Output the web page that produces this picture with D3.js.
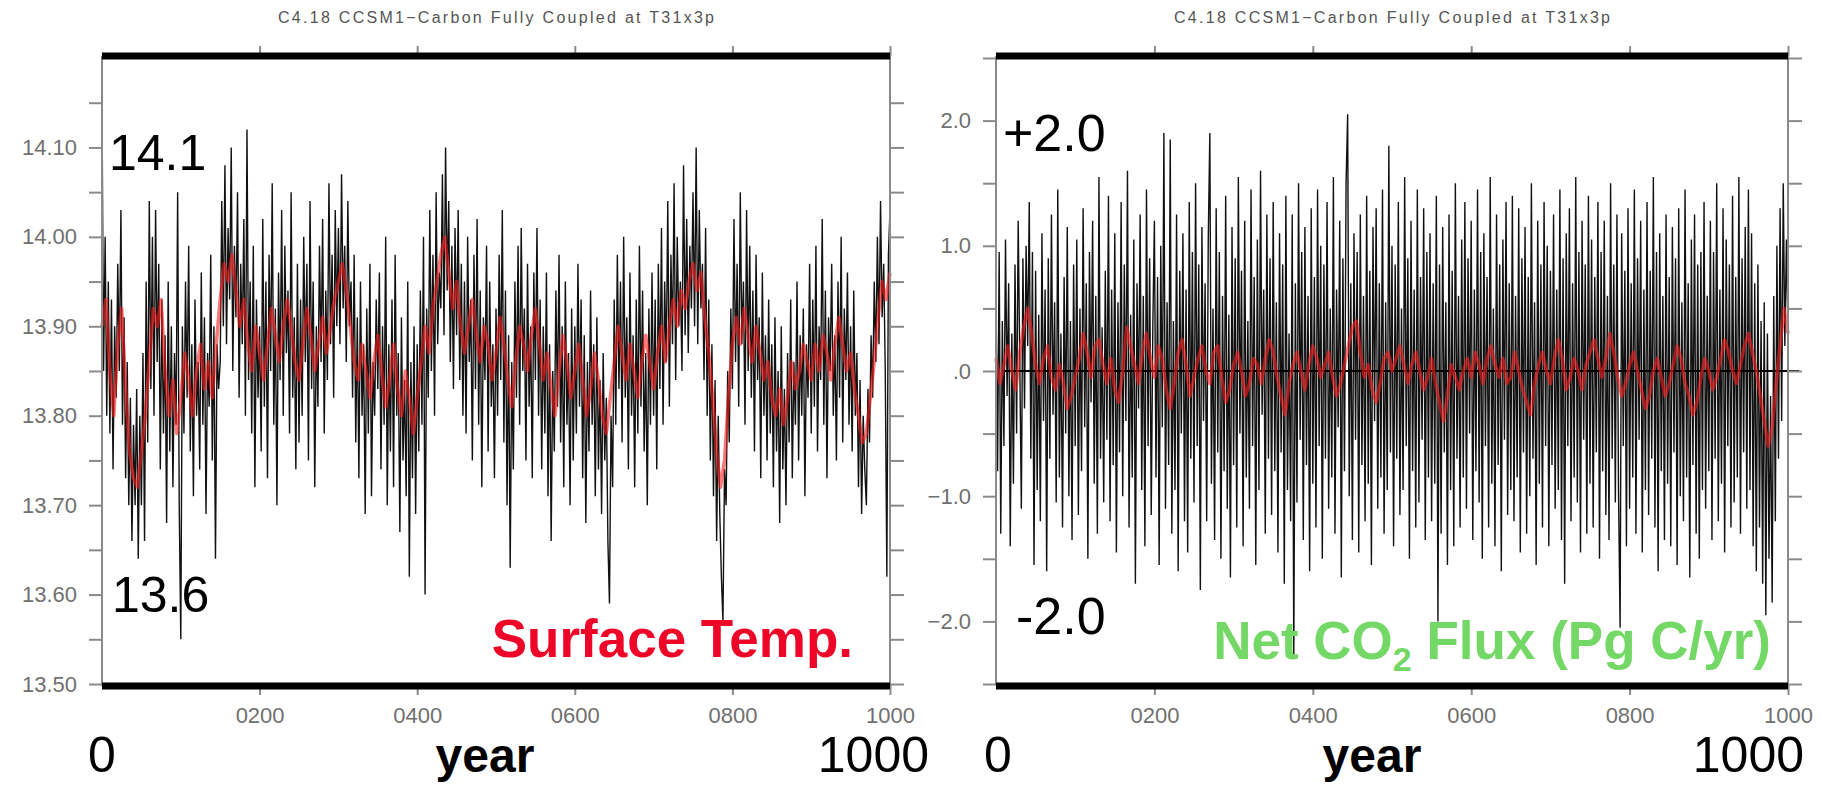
<!DOCTYPE html>
<html>
<head>
<meta charset="utf-8">
<script src="https://cdn.jsdelivr.net/npm/d3@7"></script>
<style>
  body { margin: 0; background: #ffffff; }
  svg { display: block; font-family: "Liberation Sans", Arial, sans-serif; }
</style>
</head>
<body>
<script>
// #region DATA
var plotTitle = "C4.18 CCSM1\u2212Carbon Fully Coupled at T31x3p";

// raw series sampled every 2 years (0..1000), smoothed every 5 years (0..1000)
var rawStep = 2;
var smoothStep = 5;

var xTickYears = [200, 400, 600, 800, 1000];
var xTickLabels = ["0200", "0400", "0600", "0800", "1000"];

var tempTicks = [13.5, 13.55, 13.6, 13.65, 13.7, 13.75, 13.8, 13.85, 13.9, 13.95, 14.0, 14.05, 14.1, 14.15];
var tempLabels = {"13.5": "13.50", "13.6": "13.60", "13.7": "13.70", "13.8": "13.80", "13.9": "13.90", "14": "14.00", "14.1": "14.10"};

var fluxTicks = [-2.5, -2, -1.5, -1, -0.5, 0, 0.5, 1, 1.5, 2, 2.5];
var fluxLabels = {"-2": "\u22122.0", "-1": "\u22121.0", "0": ".0", "1": "1.0", "2": "2.0"};

var zeroLineYears = [10, 1014];

var tempRaw = [
14.15,13.85,14.00,13.80,13.95,13.78,13.93,13.74,13.90,13.82,13.97,13.85,14.03,13.79,13.91,13.73,13.86,13.70,13.82,13.66,13.79,13.70,13.83,13.64,13.80,
13.70,13.87,13.66,13.95,13.77,14.04,13.83,14.00,13.80,14.03,13.86,13.97,13.74,13.93,13.78,13.89,13.68,13.95,13.76,13.90,13.72,13.87,13.79,14.05,13.70,
13.55,13.90,13.78,13.95,13.82,13.99,13.76,13.88,13.71,13.93,13.80,13.86,13.74,13.96,13.79,13.91,13.69,13.87,13.81,13.98,13.75,13.90,13.64,13.88,13.83,
13.86,14.04,13.90,14.08,13.88,14.01,13.93,14.10,13.85,13.99,13.91,14.05,13.82,13.97,13.88,14.02,13.80,14.12,13.84,13.95,13.78,13.99,13.72,13.93,13.82,
13.90,13.76,14.02,13.81,13.95,13.73,13.98,13.85,14.06,13.79,13.92,13.70,13.96,13.84,14.03,13.80,13.99,13.87,13.94,13.78,14.05,13.82,13.91,13.74,13.97,
13.77,13.93,13.80,14.00,13.86,13.97,13.75,14.04,13.83,13.95,13.72,13.90,13.81,13.99,13.86,14.02,13.78,13.94,13.84,14.06,13.88,13.98,13.82,14.03,13.90,
14.01,13.88,14.07,13.92,13.99,13.86,14.04,13.90,13.95,13.82,13.98,13.77,13.91,13.73,13.95,13.80,13.88,13.69,13.92,13.78,13.97,13.71,13.86,13.80,13.93,
13.83,13.96,13.74,13.90,13.79,14.00,13.70,13.88,13.76,13.93,13.72,13.98,13.80,13.87,13.67,13.91,13.75,13.84,13.71,13.95,13.62,13.86,13.73,13.90,13.69,
13.88,13.76,13.94,13.79,14.00,13.60,13.92,13.82,14.03,13.85,13.98,13.80,14.05,13.88,13.96,13.92,14.07,13.89,14.10,13.94,14.04,13.86,13.99,13.83,14.01,
13.89,14.03,13.84,13.97,13.80,13.95,13.78,14.00,13.86,13.93,13.75,13.98,13.83,14.02,13.79,13.94,13.72,13.91,13.84,13.99,13.76,13.95,13.81,13.88,13.73,
13.92,13.80,13.98,13.84,14.03,13.77,13.94,13.70,13.89,13.63,13.86,13.74,13.95,13.82,13.99,13.79,14.01,13.85,13.92,13.75,13.97,13.81,13.90,13.73,13.96,
13.84,14.01,13.80,13.93,13.74,13.90,13.78,13.96,13.71,13.88,13.66,13.85,13.76,13.94,13.81,13.98,13.77,13.90,13.72,13.95,13.79,13.87,13.70,13.92,13.75,
13.90,13.78,13.97,13.81,13.93,13.73,13.89,13.68,13.86,13.76,13.94,13.79,13.88,13.71,13.91,13.74,13.84,13.69,13.87,13.75,13.82,13.66,13.59,13.80,13.72,
13.93,13.79,13.98,13.83,13.95,13.77,14.00,13.82,13.91,13.74,13.96,13.80,13.89,13.72,13.93,13.78,13.99,13.81,13.94,13.76,13.87,13.70,13.92,13.79,13.96,
13.80,13.93,13.74,13.97,13.83,14.01,13.79,13.95,13.86,14.04,13.81,13.98,13.88,14.06,13.84,14.00,13.90,13.95,13.85,14.08,13.89,14.02,13.87,13.99,13.92,
14.05,13.90,14.10,13.88,14.03,13.92,13.97,13.84,14.01,13.80,13.93,13.75,13.88,13.71,13.84,13.66,13.80,13.69,13.62,13.57,13.74,13.70,13.85,13.77,13.92,
13.83,14.02,13.86,13.97,13.81,14.05,13.88,13.95,13.79,14.03,13.85,13.99,13.82,13.94,13.76,13.98,13.84,13.91,13.73,13.96,13.80,13.89,13.75,13.93,13.78,
13.88,13.72,13.91,13.76,13.85,13.68,13.90,13.74,13.83,13.70,13.87,13.77,13.93,13.73,13.86,13.79,13.95,13.75,13.89,13.80,13.92,13.71,13.88,13.82,13.97,
13.78,13.93,13.81,13.99,13.76,13.90,13.84,14.02,13.79,13.94,13.73,13.91,13.85,13.97,13.80,13.89,13.75,13.95,13.82,14.00,13.77,13.92,13.84,13.96,13.79,
13.90,13.76,13.94,13.80,13.87,13.72,13.84,13.69,13.80,13.74,13.70,13.83,13.77,13.89,13.82,13.95,13.86,14.00,13.88,14.04,13.91,13.97,13.85,13.62,13.98,
14.03];

var tempSmooth = [
13.90,13.93,13.85,13.80,13.88,13.92,13.83,13.76,13.73,13.72,13.76,13.80,13.86,13.92,13.90,13.93,13.85,13.80,13.84,13.78,
13.82,13.87,13.84,13.80,13.85,13.88,13.83,13.86,13.82,13.88,13.93,13.97,13.95,13.98,13.94,13.90,13.93,13.88,13.85,13.90,
13.87,13.84,13.88,13.92,13.89,13.86,13.90,13.93,13.90,13.86,13.84,13.88,13.92,13.89,13.85,13.88,13.91,13.87,13.90,13.93,
13.95,13.97,13.94,13.90,13.86,13.84,13.88,13.85,13.82,13.86,13.89,13.85,13.81,13.84,13.88,13.83,13.80,13.85,13.82,13.78,
13.82,13.86,13.90,13.87,13.92,13.95,13.98,14.00,13.96,13.92,13.95,13.90,13.87,13.90,13.93,13.89,13.86,13.90,13.88,13.84,
13.87,13.91,13.88,13.84,13.81,13.86,13.90,13.88,13.85,13.89,13.92,13.88,13.84,13.87,13.83,13.80,13.85,13.89,13.86,13.82,
13.85,13.88,13.84,13.80,13.83,13.87,13.84,13.80,13.78,13.82,13.86,13.90,13.87,13.84,13.88,13.85,13.82,13.86,13.89,13.86,
13.83,13.87,13.90,13.86,13.90,13.93,13.90,13.94,13.92,13.95,13.97,13.94,13.96,13.91,13.87,13.82,13.76,13.72,13.75,13.82,
13.88,13.91,13.88,13.92,13.89,13.86,13.90,13.87,13.84,13.86,13.82,13.80,13.83,13.79,13.82,13.86,13.83,13.85,13.88,13.86,
13.84,13.88,13.85,13.89,13.87,13.84,13.88,13.91,13.88,13.85,13.87,13.83,13.80,13.77,13.78,13.82,13.86,13.91,13.95,13.93,
13.96];

var fluxRaw = [
0.60,-0.80,0.95,-1.30,0.40,-0.60,1.05,-0.20,0.70,-1.40,0.30,-0.90,0.85,-0.50,1.20,0.10,-1.10,0.90,-0.30,1.00,0.20,1.35,-0.70,0.95,-1.55,
0.80,-0.95,0.45,-1.20,1.10,-0.40,0.65,-1.60,0.90,-0.70,1.25,-0.35,0.55,-1.05,1.45,-0.85,0.30,-1.25,0.75,-0.50,1.15,-1.00,0.40,-1.35,0.85,
-0.60,1.05,-1.15,0.50,-0.80,1.30,-0.45,0.70,-1.50,0.95,-0.25,1.20,-0.90,0.60,-1.30,1.55,-0.70,0.35,-1.05,0.80,-0.55,1.40,-1.20,0.65,-0.75,
1.10,-1.45,0.55,-0.65,1.35,-1.00,0.85,-0.40,1.60,-1.25,0.45,-0.85,1.05,-1.70,0.70,-0.30,1.25,-0.95,0.60,-1.40,1.45,-0.60,0.90,-1.15,0.35,
1.20,-0.85,0.75,-1.55,1.00,-0.45,1.90,-1.10,0.55,-0.75,1.85,-1.30,0.40,-0.95,1.25,-1.60,0.80,-0.50,1.10,-1.20,0.65,-1.45,1.35,-0.70,0.95,
-1.05,1.50,-0.60,0.85,-1.75,1.15,-0.40,0.70,-1.20,1.05,1.90,-0.90,0.50,-1.35,1.30,-0.65,0.95,-1.50,0.60,-0.80,1.40,-1.10,0.45,-1.65,1.15,
-0.75,0.90,-1.25,1.55,-0.50,0.80,-1.40,1.20,-0.85,0.40,-1.10,1.45,-0.60,0.75,-1.55,1.05,-0.95,1.60,-0.35,0.65,-1.30,1.25,-0.70,0.90,-1.15,
1.35,-0.80,0.55,-1.45,1.10,-0.65,0.85,-1.70,1.40,-0.95,0.30,-1.20,1.25,-2.30,0.70,-1.05,1.50,-0.55,0.95,-1.35,1.15,-0.75,0.60,-1.60,1.30,
-0.90,0.75,-1.25,1.45,-0.60,1.00,-1.50,0.85,-0.70,1.35,-1.10,0.50,-0.85,1.55,-1.30,0.65,-0.45,1.20,-1.65,0.90,-0.80,1.50,2.05,-1.00,0.70,
-1.35,1.10,-0.55,0.95,-1.45,1.25,-0.75,0.60,-1.20,1.40,-0.90,0.80,-1.55,1.15,-0.40,1.30,-1.10,0.70,-0.85,1.45,-1.30,0.55,-0.95,1.80,-0.65,
1.00,-1.40,0.85,-0.70,1.35,-1.15,0.50,-0.95,1.55,-0.60,0.90,-1.50,1.20,-0.80,0.65,-1.25,1.45,-1.05,0.75,-0.55,1.30,-1.35,0.95,-0.85,1.10,
-1.20,0.70,-0.90,1.40,-2.00,0.85,-1.30,1.15,-0.65,0.55,-1.55,1.25,-0.95,0.80,-1.40,1.50,-0.70,0.60,-1.25,1.05,-0.85,1.35,-1.10,0.90,-0.50,
1.20,-1.35,0.65,-0.80,1.45,-1.05,0.95,-1.50,1.10,-0.60,0.75,-1.25,1.55,-0.90,0.50,-1.40,1.25,-0.75,0.85,-1.60,1.05,-0.55,1.35,-1.15,0.70,
-0.95,1.40,-1.20,0.60,-0.85,1.30,-1.45,0.90,-0.65,1.15,-1.30,0.75,-1.00,1.50,-0.70,0.55,-1.55,1.20,-0.90,0.85,-1.25,1.35,-0.60,1.00,-1.40,
0.80,-0.75,1.25,-1.10,0.65,-0.95,1.45,-1.35,0.90,-1.70,1.10,-0.60,1.30,-1.20,0.70,-0.85,1.55,-1.05,0.95,-1.45,1.20,-0.55,0.85,-1.30,1.40,
-0.90,1.05,-1.25,0.75,-0.65,1.35,-1.50,0.95,-0.80,1.20,-1.15,0.60,-1.35,1.50,-0.70,0.85,-1.05,1.25,-0.95,-2.05,1.10,-0.60,0.80,-1.40,1.30,
-1.10,0.70,-0.85,1.45,-1.30,0.90,-0.55,1.20,-1.45,0.65,-0.95,1.35,-1.15,0.80,-0.70,1.55,-1.25,0.95,-1.60,1.10,-0.80,0.60,-1.35,1.25,-0.90,
0.75,-1.40,1.15,-0.65,0.90,-1.55,1.30,-1.00,0.55,-1.20,1.45,-0.85,0.70,-1.65,1.05,-0.75,1.25,-1.30,0.85,-1.50,0.95,-0.95,1.35,-1.10,0.60,
-0.80,1.20,-1.35,0.95,-0.70,1.50,-1.20,0.65,-0.90,1.30,-1.45,1.05,-0.60,0.85,-1.25,1.40,-1.05,0.75,-0.85,1.55,-1.30,0.90,-0.65,1.15,-1.10,
1.45,-0.95,1.10,-1.40,0.70,-1.60,0.85,-1.25,0.40,-1.70,0.55,-1.95,0.30,-1.50,-0.20,-1.85,0.60,-1.20,1.00,-0.70,1.30,-0.40,1.50,0.20,1.05,
0.30];

var fluxSmooth = [
0.10,-0.10,0.05,0.20,0.00,-0.15,0.15,0.35,0.50,0.30,0.05,-0.10,0.10,0.20,-0.05,-0.15,0.05,-0.10,-0.30,-0.20,
-0.05,0.10,0.30,0.15,-0.05,0.20,0.25,0.05,-0.10,0.10,-0.15,-0.25,0.00,0.35,0.20,0.05,-0.10,0.15,0.30,0.10,
-0.05,0.20,0.10,-0.15,-0.30,-0.10,0.15,0.25,0.05,-0.20,-0.05,0.10,0.20,0.00,-0.10,0.15,0.20,-0.05,-0.25,-0.15,
0.05,0.15,0.00,-0.20,-0.10,0.10,0.05,-0.10,0.10,0.25,0.15,-0.05,-0.20,-0.35,-0.10,0.05,0.15,0.00,-0.15,0.05,
0.20,0.10,-0.05,0.05,0.15,-0.05,-0.20,-0.10,0.05,0.20,0.35,0.40,0.15,-0.05,0.05,-0.15,-0.25,-0.10,0.10,0.15,
0.00,0.10,0.20,0.05,-0.10,0.05,0.15,0.00,-0.15,-0.05,0.10,-0.10,-0.25,-0.40,-0.20,0.05,-0.05,-0.15,0.00,0.10,
-0.05,0.15,0.05,-0.10,0.10,0.20,0.05,-0.05,0.10,-0.10,-0.05,0.15,0.00,-0.15,-0.25,-0.35,-0.10,0.05,0.15,0.00,
-0.10,0.10,0.25,0.10,-0.15,-0.05,0.10,0.00,-0.15,0.05,0.15,0.25,0.10,-0.05,0.10,0.30,0.15,-0.05,-0.20,-0.10,
0.05,0.15,0.00,-0.15,-0.30,-0.20,0.00,0.10,-0.05,-0.20,-0.10,0.05,0.20,0.10,-0.10,-0.20,-0.35,-0.25,-0.05,0.10,
0.00,-0.15,-0.05,0.10,0.25,0.15,0.00,-0.10,0.05,0.20,0.30,0.15,0.00,-0.20,-0.40,-0.60,-0.45,-0.10,0.20,0.50,
0.30];
// #endregion

// #region SETUP
var width = 1822, height = 785;
var plotTop = 58, plotBottom = 684;

var svg = d3.select("body")
    .append("svg")
    .attr("width", width)
    .attr("height", height);

var tickColor = "#8a8a8a";
var labelColor = "#707070";
// #endregion

// #region PANELS
function drawPanel(p) {
    var x = d3.scaleLinear().domain([0, 1000]).range([p.left, p.right]);
    var y = d3.scaleLinear().domain(p.yDomain).range([plotBottom, plotTop]);
    var g = svg.append("g").attr("id", p.id);

    // title
    g.append("text")
        .attr("x", (p.left + p.right) / 2)
        .attr("y", 23)
        .attr("text-anchor", "middle")
        .attr("font-size", 16)
        .attr("fill", "#555")
        .attr("textLength", 436)
        .attr("lengthAdjust", "spacing")
        .text(plotTitle);

    // raw annual series
    var rawLine = d3.line()
        .x((d, i) => x(i * rawStep))
        .y(d => y(d));
    g.append("path")
        .datum(p.raw)
        .attr("d", rawLine)
        .attr("fill", "none")
        .attr("stroke", "#111")
        .attr("stroke-width", 1.4);

    if (p.zeroLine) {
        g.append("line")
            .attr("x1", x(zeroLineYears[0]))
            .attr("x2", x(zeroLineYears[1]))
            .attr("y1", y(0))
            .attr("y2", y(0))
            .attr("stroke", "#000")
            .attr("stroke-width", 2);
    }

    // smoothed series in red
    var smoothLine = d3.line()
        .x((d, i) => x(i * smoothStep))
        .y(d => y(d));
    g.append("path")
        .datum(p.smooth)
        .attr("d", smoothLine)
        .attr("fill", "none")
        .attr("stroke", "#ff1e1e")
        .attr("stroke-opacity", 0.6)
        .attr("stroke-width", 3.5)
        .attr("stroke-linejoin", "round");

    // axes
    var leftAxis = d3.axisLeft(y)
        .tickValues(p.yTicks)
        .tickSize(13)
        .tickPadding(12)
        .tickFormat(d => p.yLabels[String(+d.toFixed(2))] || "");
    var rightAxis = d3.axisRight(y).tickValues(p.yTicks).tickSize(14).tickFormat("");
    var bottomAxis = d3.axisBottom(x)
        .tickValues(xTickYears)
        .tickSize(11)
        .tickPadding(12)
        .tickFormat((d, i) => xTickLabels[i]);
    var topAxis = d3.axisTop(x).tickValues(xTickYears).tickSize(10).tickFormat("");

    var axes = [
        g.append("g").attr("transform", "translate(" + p.left + ",0)").call(leftAxis),
        g.append("g").attr("transform", "translate(" + p.right + ",0)").call(rightAxis),
        g.append("g").attr("transform", "translate(0," + plotBottom + ")").call(bottomAxis),
        g.append("g").attr("transform", "translate(0," + (plotTop - 2) + ")").call(topAxis)
    ];
    axes.forEach(function(a) {
        a.select(".domain").remove();
        a.selectAll(".tick line").attr("stroke", tickColor).attr("stroke-width", 2);
        a.selectAll(".tick text")
            .attr("fill", labelColor)
            .attr("font-size", 22)
            .attr("font-family", "'Liberation Sans', Arial, sans-serif");
    });

    // frame: grey sides, heavy black top and bottom
    g.append("line")
        .attr("x1", p.left).attr("x2", p.left)
        .attr("y1", plotTop - 2).attr("y2", plotBottom + 2)
        .attr("stroke", tickColor).attr("stroke-width", 2);
    g.append("line")
        .attr("x1", p.right).attr("x2", p.right)
        .attr("y1", plotTop - 2).attr("y2", plotBottom + 2)
        .attr("stroke", tickColor).attr("stroke-width", 2);
    g.append("line")
        .attr("x1", p.left).attr("x2", p.right)
        .attr("y1", plotTop - 2).attr("y2", plotTop - 2)
        .attr("stroke", "#000").attr("stroke-width", 7);
    g.append("line")
        .attr("x1", p.left).attr("x2", p.right)
        .attr("y1", plotBottom + 2).attr("y2", plotBottom + 2)
        .attr("stroke", "#000").attr("stroke-width", 7);

    // big annotation labels
    p.bigLabels.forEach(function(b) {
        g.append("text")
            .attr("x", b.x)
            .attr("y", b.y)
            .attr("text-anchor", b.anchor || "start")
            .attr("font-size", b.size || 50)
            .attr("font-weight", b.bold ? "bold" : "normal")
            .attr("fill", "#000")
            .text(b.text);
    });

    return g;
}

var leftPanel = drawPanel({
    id: "temp-panel",
    left: 102,
    right: 890,
    yDomain: [13.5, 14.2],
    yTicks: tempTicks,
    yLabels: tempLabels,
    raw: tempRaw,
    smooth: tempSmooth,
    zeroLine: false,
    bigLabels: [
        {text: "14.1", x: 109, y: 170},
        {text: "13.6", x: 112, y: 612},
        {text: "0", x: 88, y: 772},
        {text: "1000", x: 929, y: 772, anchor: "end"},
        {text: "year", x: 485, y: 772, anchor: "middle", bold: true, size: 48}
    ]
});

var rightPanel = drawPanel({
    id: "flux-panel",
    left: 996,
    right: 1788,
    yDomain: [-2.5, 2.5],
    yTicks: fluxTicks,
    yLabels: fluxLabels,
    raw: fluxRaw,
    smooth: fluxSmooth,
    zeroLine: true,
    bigLabels: [
        {text: "+2.0", x: 1003, y: 151, size: 52},
        {text: "-2.0", x: 1016, y: 634, size: 52},
        {text: "0", x: 984, y: 772},
        {text: "1000", x: 1804, y: 772, anchor: "end"},
        {text: "year", x: 1372, y: 772, anchor: "middle", bold: true, size: 48}
    ]
});

// coloured variable names
leftPanel.append("text")
    .attr("x", 853)
    .attr("y", 657)
    .attr("text-anchor", "end")
    .attr("font-size", 53)
    .attr("font-weight", "bold")
    .attr("fill", "#ee0628")
    .text("Surface Temp.");

var fluxName = rightPanel.append("text")
    .attr("x", 1771)
    .attr("y", 659)
    .attr("text-anchor", "end")
    .attr("font-size", 53)
    .attr("font-weight", "bold")
    .attr("fill", "#74d866");
fluxName.append("tspan").text("Net CO");
fluxName.append("tspan").attr("font-size", 34).attr("dy", 12).text("2");
fluxName.append("tspan").attr("dy", -12).text(" Flux (Pg C/yr)");
// #endregion
</script>
</body>
</html>
